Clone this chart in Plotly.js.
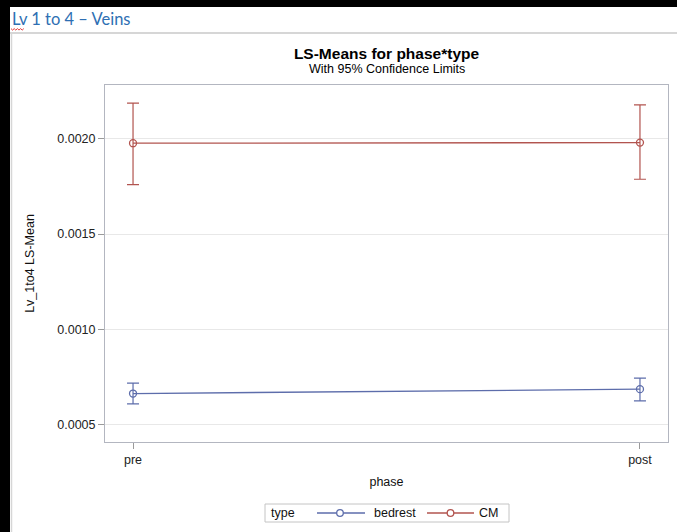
<!DOCTYPE html>
<html>
<head>
<meta charset="utf-8">
<script src="https://cdn.plot.ly/plotly-3.0.1.min.js"></script>
<style>
  html, body { margin: 0; padding: 0; background: #000; width: 677px; height: 532px; overflow: hidden; }
  #chart { position: absolute; left: 10px; top: 7px; width: 667px; height: 525px; }
</style>
</head>
<body>
<div id="chart"></div>
<script>
// LS-means of Lv_1to4 by phase and type, with 95% confidence limits
const phase = ['pre', 'post'];

const bedrestMean  = [0.000664, 0.000687];
const bedrestLower = [0.000610, 0.000626];
const bedrestUpper = [0.000719, 0.000745];

const cmMean  = [0.001976, 0.001979];
const cmLower = [0.001759, 0.001787];
const cmUpper = [0.002186, 0.002177];

const yTicks = [0.0005, 0.0010, 0.0015, 0.0020];
const groupNames = ['bedrest', 'CM'];

const BLUE = '#5d6dab';
const RED  = '#b2544f';
const FONT = 'Liberation Sans, Arial, sans-serif';

// plot-area geometry inside the chart div (div itself sits at 10,7 on the page)
const M = { l: 95, r: 9, t: 78, b: 90 };
const W = 667, H = 525;
const PW = W - M.l - M.r, PH = H - M.t - M.b;
// page pixel -> paper fraction
const fx = px => (px - 10 - M.l) / PW;
const fy = py => (H - M.b - (py - 7)) / PH;

function series(name, mean, lower, upper, color) {
  return {
    type: 'scatter',
    mode: 'lines+markers',
    name: name,
    x: phase,
    y: mean,
    line: { color: color, width: 1.3 },
    marker: { symbol: 'circle-open', size: 7, color: color, line: { width: 1.3, color: color } },
    error_y: {
      type: 'data',
      symmetric: false,
      array: upper.map((u, i) => u - mean[i]),
      arrayminus: mean.map((m, i) => m - lower[i]),
      color: color,
      thickness: 1.2,
      width: 6
    },
    showlegend: false,
    hoverinfo: 'x+y+name'
  };
}

const data = [
  series(groupNames[0], bedrestMean, bedrestLower, bedrestUpper, BLUE),
  series(groupNames[1], cmMean, cmLower, cmUpper, RED)
];

// small spell-check squiggle under the heading
let sq = '';
for (let i = 0; i <= 8; i++) {
  const x = 11 + i * 1.6;
  const y = (i % 2 === 0) ? 28.6 : 30.1;
  sq += (i === 0 ? 'M' : 'L') + fx(x) + ',' + fy(y);
}

// legend box below the plot: "type" followed by a line+marker key per group
const legendKeys = [
  { name: groupNames[0], color: BLUE, x0: 317, xm: 340, x1: 365, tx: 372 },
  { name: groupNames[1], color: RED,  x0: 427, xm: 450.5, x1: 474, tx: 477 }
];
const LY = 513;
const legendShapes = [
  { type: 'rect', xref: 'paper', yref: 'paper', x0: fx(265), x1: fx(509), y0: fy(504), y1: fy(522),
    line: { color: '#c4c4c4', width: 1 }, fillcolor: '#ffffff' }
];
const legendText = [
  { text: 'type', xref: 'paper', yref: 'paper', x: fx(269), y: fy(LY), xanchor: 'left', yanchor: 'middle',
    showarrow: false, font: { family: FONT, size: 12.5, color: '#111' } }
];
legendKeys.forEach(k => {
  legendShapes.push({ type: 'line', xref: 'paper', yref: 'paper', x0: fx(k.x0), x1: fx(k.x1), y0: fy(LY), y1: fy(LY),
    line: { color: k.color, width: 1.3 } });
  legendShapes.push({ type: 'circle', xref: 'paper', yref: 'paper',
    x0: fx(k.xm - 3.3), x1: fx(k.xm + 3.3), y0: fy(LY + 3.3), y1: fy(LY - 3.3),
    line: { color: k.color, width: 1.3 }, fillcolor: '#ffffff' });
  legendText.push({ text: k.name, xref: 'paper', yref: 'paper', x: fx(k.tx), y: fy(LY), xanchor: 'left', yanchor: 'middle',
    showarrow: false, font: { family: FONT, size: 12.5, color: '#111' } });
});

const layout = {
  width: W,
  height: H,
  margin: M,
  paper_bgcolor: '#ffffff',
  plot_bgcolor: '#ffffff',
  font: { family: FONT, size: 13, color: '#000' },
  title: {
    text: '<b>LS-Means for phase*type</b>',
    font: { family: FONT, size: 15.5, color: '#000' },
    x: 0.5, xref: 'paper',
    y: 1 - (54 - 7) / H, yref: 'container', yanchor: 'middle'
  },
  xaxis: {
    type: 'category',
    range: [-0.0553, 1.0553],
    showline: true, mirror: true, linecolor: '#b3b6c0', linewidth: 1,
    ticks: 'outside', ticklen: 6, tickcolor: '#9a9a9a', tickwidth: 1,
    tickfont: { size: 12.5, color: '#222' },
    showgrid: false, zeroline: false,
    title: { text: 'phase', font: { size: 12.5, color: '#111' }, standoff: 11 }
  },
  yaxis: {
    range: [0.00041, 0.002281],
    tickvals: yTicks,
    tickformat: '.4f',
    showline: true, mirror: true, linecolor: '#b3b6c0', linewidth: 1,
    ticks: 'outside', ticklen: 6, tickcolor: '#9a9a9a', tickwidth: 1,
    tickfont: { size: 12.5, color: '#222' },
    showgrid: true, gridcolor: '#e8e8e8', gridwidth: 1,
    zeroline: false,
    title: { text: 'Lv_1to4 LS-Mean', font: { size: 12.5, color: '#111' }, standoff: 19 }
  },
  showlegend: false,
  annotations: [
    {
      text: 'Lv 1 to 4 \u2013 Veins',
      xref: 'paper', yref: 'paper',
      x: fx(10), y: fy(18.5), xanchor: 'left', yanchor: 'middle',
      showarrow: false,
      font: { family: 'Lato, Liberation Sans, Arial, sans-serif', size: 16.5, weight: 400, color: '#2e6fb3' }
    },
    {
      text: 'With 95% Confidence Limits',
      xref: 'paper', yref: 'paper',
      x: 0.5, y: fy(69), xanchor: 'center', yanchor: 'middle',
      showarrow: false,
      font: { family: FONT, size: 12.5, color: '#000' }
    }
  ].concat(legendText),
  shapes: [
    { type: 'line', xref: 'paper', yref: 'paper', x0: fx(10), x1: fx(677), y0: fy(33), y1: fy(33),
      line: { color: '#d6d6d6', width: 2 } },
    { type: 'line', xref: 'paper', yref: 'paper', x0: fx(11.5), x1: fx(11.5), y0: fy(34), y1: fy(532),
      line: { color: '#d6d6d6', width: 1.5 } },
    { type: 'path', xref: 'paper', yref: 'paper', path: sq,
      line: { color: '#e23b3b', width: 1 } }
  ].concat(legendShapes)
};

Plotly.newPlot('chart', data, layout, { displayModeBar: false, staticPlot: true });
</script>
</body>
</html>
